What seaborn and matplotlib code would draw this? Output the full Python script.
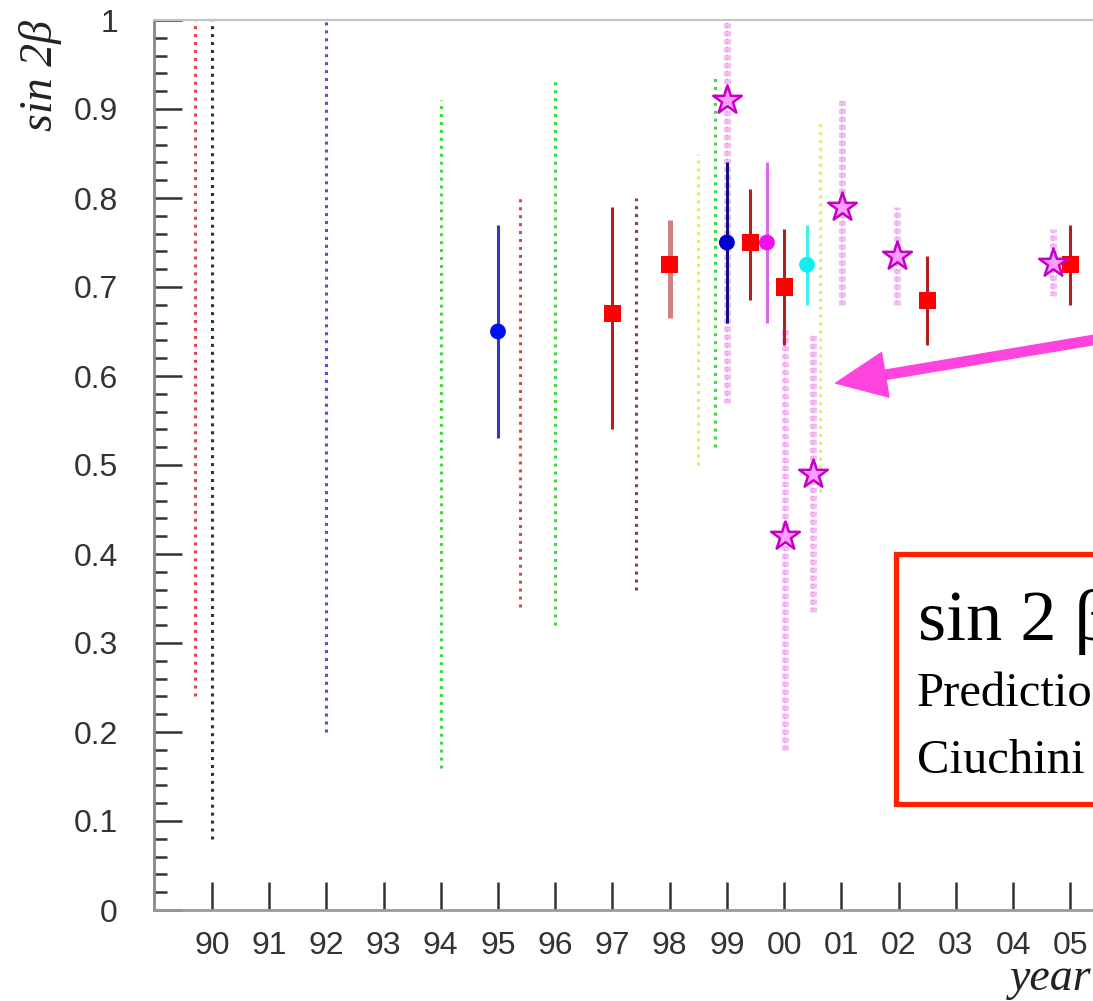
import matplotlib
matplotlib.use("Agg")
import matplotlib.pyplot as plt
import numpy as np
import pandas as pd
import seaborn as sns

from matplotlib.patches import Rectangle
from matplotlib.ticker import MultipleLocator, FixedLocator

# -----------------------------------------------------------------------------
# Data (x in "years since 1900", so 100 == 2000)
# -----------------------------------------------------------------------------

# dotted ranges (indirect constraints)
range_year = [89.7, 90.0, 92.0, 94.0, 95.38, 96.0, 97.41, 98.5, 98.79, 100.63]
range_lo = [0.24, 0.08, 0.20, 0.16, 0.34, 0.32, 0.36, 0.50, 0.52, 0.47]
range_hi = [1.0, 1.0, 1.0, 0.91, 0.80, 0.935, 0.80, 0.85, 0.935, 0.885]
range_group = ["red", "black", "blue", "green", "red", "green", "darkred",
               "yellow", "green", "yellow"]

# measurements with error bars
meas_year = [95.0, 97.0, 98.0, 99.0, 99.41, 99.7, 100.0, 100.4, 102.5, 105.0]
meas_val = [0.65, 0.67, 0.725, 0.75, 0.75, 0.75, 0.70, 0.725, 0.685, 0.725]
meas_lo = [0.53, 0.54, 0.665, 0.66, 0.685, 0.66, 0.635, 0.68, 0.635, 0.68]
meas_hi = [0.77, 0.79, 0.775, 0.84, 0.81, 0.84, 0.765, 0.77, 0.735, 0.77]
meas_group = ["blue", "red", "red_light", "navy", "red", "magenta", "red",
              "cyan", "red", "red"]

# predictions (stars with wavy bands)
pred_year = [99.0, 100.02, 100.51, 101.01, 101.98, 104.69]
pred_val = [0.91, 0.42, 0.49, 0.79, 0.735, 0.727]
pred_lo = [0.57, 0.18, 0.335, 0.68, 0.68, 0.69]
pred_hi = [1.02, 0.655, 0.648, 0.91, 0.79, 0.765]

year_ticks = list(range(90, 106))
year_labels = ["90", "91", "92", "93", "94", "95", "96", "97", "98", "99",
               "00", "01", "02", "03", "04", "05"]
y_ticks = [0, 0.1, 0.2, 0.3, 0.4, 0.5, 0.6, 0.7, 0.8, 0.9, 1.0]
y_labels = ["0", "0.1", "0.2", "0.3", "0.4", "0.5", "0.6", "0.7", "0.8",
            "0.9", "1"]

# styles
range_colors = {"red": "#e04848", "black": "#333333", "blue": "#4a55dd",
                "green": "#3fd83f", "darkred": "#8a4040", "yellow": "#f0ea50"}
bar_colors = {"blue": "#2b3bbb", "red": "#b02020", "red_light": "#d08080",
              "navy": "#10107a", "magenta": "#dd66ee", "cyan": "#40eeee"}
marker_colors = {"blue": "#0010ee", "red": "#ff0000", "red_light": "#ff0000",
                 "navy": "#0000cc", "magenta": "#ee10ee", "cyan": "#10eeee"}
marker_shapes = {"blue": "o", "red": "s", "red_light": "s", "navy": "o",
                 "magenta": "o", "cyan": "o"}

sns.set_style("white")
plt.rcParams["font.family"] = ["Liberation Sans", "DejaVu Sans"]

fig = plt.figure(figsize=(10.93, 10.01), dpi=100)
ax = fig.add_axes([154 / 1093, 91 / 1001, (1242 - 154) / 1093, 890 / 1001])

# dotted ranges
ax.vlines(range_year, range_lo, range_hi,
          colors=[range_colors[g] for g in range_group],
          linestyles=[(0, (1, 1.6))], linewidth=2.2, zorder=2)

# prediction bands (wavy look: a light dashed band with a thin dotted core)
ax.vlines(pred_year, pred_lo, pred_hi, colors="#f4bcf4",
          linestyles=[(0, (0.7, 0.45))], linewidth=5.0, zorder=2)
ax.vlines(pred_year, pred_lo, pred_hi, colors="#e99be9",
          linestyles=[(0.5, (0.6, 1.2))], linewidth=1.6, zorder=2)

# measurement error bars
meas = pd.DataFrame({"year": meas_year, "val": meas_val, "lo": meas_lo,
                     "hi": meas_hi, "group": meas_group})
bar_width = [3.6 if g == "red_light" else 2.2 for g in meas.group]
ax.vlines(meas.year, meas.lo, meas.hi,
          colors=[bar_colors[g] for g in meas.group],
          linewidth=bar_width, zorder=3)

# markers
for shape, size in [("s", 150), ("o", 130)]:
    sub = meas[meas.group.map(marker_shapes) == shape]
    sns.scatterplot(data=sub, x="year", y="val", hue="group",
                    palette=marker_colors, marker=shape, s=size,
                    linewidth=0, legend=False, ax=ax, zorder=4)

sns.scatterplot(x=pred_year, y=pred_val, marker="*", s=470, color="#ff9cff",
                edgecolor="#c400c4", linewidth=1.8, ax=ax, zorder=5)

# axes look
ax.set_xlim(88.99, 108)
ax.set_ylim(0, 1)
ax.xaxis.set_major_locator(FixedLocator(year_ticks))
ax.set_xticklabels(year_labels)
ax.yaxis.set_major_locator(FixedLocator(y_ticks))
ax.set_yticklabels(y_labels)
ax.yaxis.set_minor_locator(MultipleLocator(0.02))
ax.tick_params(axis="y", which="major", direction="in", length=20, width=1.8,
               color="#333333", pad=26, labelsize=23, labelcolor="#333333",
               left=True)
ax.tick_params(axis="y", which="minor", direction="in", length=9.5,
               width=1.8, color="#333333", left=True)
ax.tick_params(axis="x", which="major", direction="in", length=20, width=1.8,
               color="#333333", pad=15, labelsize=23, labelcolor="#333333",
               bottom=True)
ax.set_xlabel("")
ax.set_ylabel("")
for side, col, lw in [("top", "#c4c4c4", 1.6), ("left", "#888888", 2.0),
                      ("bottom", "#9a9a9a", 2.0), ("right", "#9a9a9a", 1.6)]:
    ax.spines[side].set_color(col)
    ax.spines[side].set_linewidth(lw)

# arrow pointing at the predictions
ax.annotate("", xy=(100.9, 0.592), xytext=(107.5, 0.663),
            arrowprops=dict(arrowstyle="simple,head_length=1.45,"
                            "head_width=1.3,tail_width=0.27",
                            mutation_scale=25, color="#ff44dd",
                            shrinkA=0, shrinkB=0),
            annotation_clip=False, zorder=6)

# labels
fig.text(40 / 1093, 1 - 20 / 1001, "sin 2β", rotation=90, ha="center",
         va="top", family="Liberation Serif", style="italic", fontsize=33,
         color="#222222")
fig.text(1010 / 1093, 1 - 990 / 1001, "year", ha="left", va="baseline",
         family="Liberation Serif", style="italic", fontsize=33,
         color="#222222")

# red box
box = Rectangle((896 / 1093, 1 - 804 / 1001), 0.3, 250 / 1001,
                transform=fig.transFigure, facecolor="white",
                edgecolor="#ff2200", linewidth=3.8, zorder=7)
fig.add_artist(box)
fig.text(918 / 1093, 1 - 640 / 1001, "sin 2 β", ha="left", va="baseline",
         family="Liberation Serif", fontsize=52, color="black", zorder=8)
fig.text(917 / 1093, 1 - 706 / 1001, "Predictions", ha="left",
         va="baseline", family="Liberation Serif", fontsize=35,
         color="black", zorder=8)
fig.text(917 / 1093, 1 - 773 / 1001, "Ciuchini et al.", ha="left",
         va="baseline", family="Liberation Serif", fontsize=35,
         color="black", zorder=8)

fig.savefig("out.png", dpi=100)
